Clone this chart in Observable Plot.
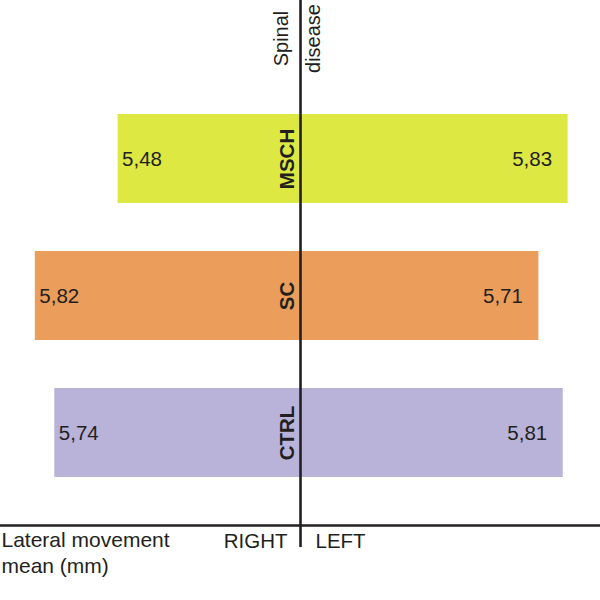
<!DOCTYPE html>
<html>
<head>
<meta charset="utf-8">
<script src="https://cdn.jsdelivr.net/npm/d3@7"></script>
<script src="https://cdn.jsdelivr.net/npm/@observablehq/plot@0.6"></script>
<style>
  html, body { margin: 0; padding: 0; background: #fff; }
  #chart svg { display: block; }
</style>
</head>
<body>
<div id="chart"></div>
<script>
// Data
const categories = ["MSCH", "SC", "CTRL"];
const rightValues = [5.48, 5.82, 5.74]; // drawn to the left of the axis ("RIGHT")
const leftValues = [5.83, 5.71, 5.81];  // drawn to the right of the axis ("LEFT")
const groupColors = ["#dde843", "#eb9d5b", "#b9b3d9"];
const axisTitle = "Spinal\ndisease";
const sideLabels = ["RIGHT", "LEFT"];
const measureLabel = "Lateral movement\nmean (mm)";

// Scale parameters (the bars start from a non-zero baseline in the original figure)
const BASE = 4.731;
const HALF = 1.232;

const rows = categories.map((c, i) => ({category: c, right: rightValues[i], left: leftValues[i]}));
const fmt = v => v.toFixed(2).replace(".", ",");
const ink = "#231f20";

const chart = Plot.plot({
  width: 600,
  height: 600,
  marginLeft: 0,
  marginRight: 0,
  marginTop: 66,
  marginBottom: 75,
  style: {fontFamily: "'Liberation Sans', Arial, Helvetica, sans-serif", fontSize: "20px", color: ink, background: "#fff"},
  x: {domain: [-HALF, HALF], axis: null},
  y: {domain: categories, padding: 0.348, axis: null},
  color: {domain: categories, range: groupColors},
  marks: [
    Plot.barX(rows, {y: "category", x1: 0, x2: d => -(d.right - BASE), fill: "category"}),
    Plot.barX(rows, {y: "category", x1: 0, x2: d => d.left - BASE, fill: "category"}),
    Plot.text(rows, {y: "category", x: d => -(d.right - BASE), text: d => fmt(d.right), textAnchor: "start", dx: 4, fontSize: 20.5, fill: ink}),
    Plot.text(rows, {y: "category", x: d => d.left - BASE, text: d => fmt(d.left), textAnchor: "end", dx: -16, fontSize: 20.5, fill: ink}),
    Plot.text(rows, {y: "category", x: 0, text: "category", rotate: -90, dx: -13.5, fontSize: 20.5, fontWeight: "bold", fill: ink}),
    Plot.frame({anchor: "bottom", stroke: ink, strokeWidth: 2.5}),
    Plot.ruleX([0], {stroke: ink, strokeWidth: 2.6, insetTop: -66, insetBottom: -22}),
    Plot.text([axisTitle], {x: 0, frameAnchor: "top", text: d => d, rotate: -90, lineHeight: 1.6, dx: -35, dy: -28, fontSize: 20, fill: ink}),
    Plot.text([sideLabels[0]], {x: 0, frameAnchor: "bottom", text: d => d, textAnchor: "end", lineAnchor: "top", dx: -13, dy: 8, fontSize: 20.5, fill: ink}),
    Plot.text([sideLabels[1]], {x: 0, frameAnchor: "bottom", text: d => d, textAnchor: "start", lineAnchor: "top", dx: 15, dy: 8, fontSize: 20.5, fill: ink}),
    Plot.text([measureLabel], {frameAnchor: "bottom-left", text: d => d, textAnchor: "start", lineAnchor: "top", lineHeight: 1.2, dx: 1, dy: 4, fontSize: 21, fill: ink})
  ]
});
document.getElementById("chart").appendChild(chart);
</script>
</body>
</html>
